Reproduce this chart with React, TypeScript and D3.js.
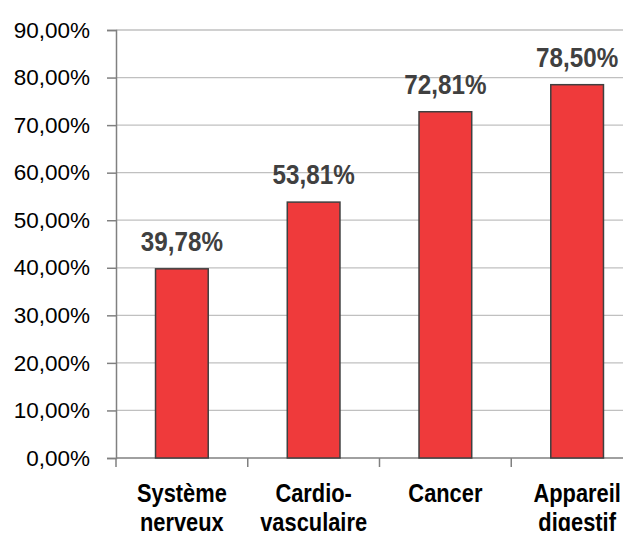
import React, { useEffect, useRef } from "react";
import * as d3 from "d3";

const WIDTH = 631;
const HEIGHT = 539;

const categories = ["Système nerveux", "Cardio-vasculaire", "Cancer", "Appareil digestif"];
const categoryLines = [
  ["Système", "nerveux"],
  ["Cardio-", "vasculaire"],
  ["Cancer"],
  ["Appareil", "digestif"],
];
const values = [0.3978, 0.5381, 0.7281, 0.785];
const yTicks = [0, 0.1, 0.2, 0.3, 0.4, 0.5, 0.6, 0.7, 0.8, 0.9];

const fmt = (v: number) => (v * 100).toFixed(2).replace(".", ",") + "%";

const FONT = "'Liberation Sans', Arial, sans-serif";
// the bold labels in the original are narrower than Arial bold
const NARROW = 0.85;

const BarChart = () => {
  const ref = useRef<SVGGElement>(null);

  useEffect(() => {
    const g = d3.select(ref.current);
    g.selectAll("*").remove();

    const x = d3
      .scaleBand<string>()
      .domain(categories)
      .range([116, 643])
      .paddingInner(0.6)
      .paddingOuter(0.3);
    const y = d3.scaleLinear().domain([0, 0.9]).range([458, 30]);

    // gridlines
    g.append("g")
      .selectAll("line")
      .data(yTicks.slice(1))
      .join("line")
      .attr("x1", 116)
      .attr("x2", WIDTH)
      .attr("y1", (d) => y(d))
      .attr("y2", (d) => y(d))
      .attr("stroke", "#c0c0c0")
      .attr("stroke-width", 1.3);

    // y axis
    const yAxis = g.append("g").attr("transform", "translate(116,0)");
    yAxis.call(d3.axisLeft(y).tickValues(yTicks).tickSize(9).tickFormat((d) => fmt(+d)));
    yAxis.select(".domain").attr("stroke", "#808080").attr("stroke-width", 1.5);
    yAxis.selectAll(".tick line").attr("stroke", "#808080").attr("stroke-width", 1.5);
    yAxis
      .selectAll(".tick text")
      .attr("x", -26)
      .attr("font-size", 22.5)
      .attr("font-family", FONT)
      .attr("fill", "#000");

    // x axis with ticks between the categories
    const step = x.step();
    const bounds = categories.map((c) => (x(c) as number) - (x.paddingInner() * step) / 2);
    const xAxis = g.append("g");
    xAxis
      .append("line")
      .attr("x1", 116)
      .attr("x2", WIDTH)
      .attr("y1", y(0))
      .attr("y2", y(0))
      .attr("stroke", "#808080")
      .attr("stroke-width", 1.5);
    xAxis
      .selectAll("line.tk")
      .data(bounds)
      .join("line")
      .attr("class", "tk")
      .attr("x1", (d) => d)
      .attr("x2", (d) => d)
      .attr("y1", y(0))
      .attr("y2", y(0) + 9)
      .attr("stroke", "#808080")
      .attr("stroke-width", 1.5);

    // bars
    g.append("g")
      .selectAll("rect")
      .data(values)
      .join("rect")
      .attr("x", (d, i) => x(categories[i]) as number)
      .attr("width", x.bandwidth())
      .attr("y", (d) => y(d))
      .attr("height", (d) => y(0) - y(d))
      .attr("fill", "#ef3a3b")
      .attr("stroke", "#404040")
      .attr("stroke-width", 1.5);

    // value labels
    g.append("g")
      .selectAll("text")
      .data(values)
      .join("text")
      .attr(
        "transform",
        (d, i) =>
          `translate(${(x(categories[i]) as number) + x.bandwidth() / 2},${y(d) - 18}) scale(${NARROW},1)`
      )
      .attr("text-anchor", "middle")
      .attr("font-family", FONT)
      .attr("font-weight", "bold")
      .attr("font-size", 28.5)
      .attr("fill", "#404040")
      .text((d) => fmt(d));

    // category labels
    const cl = g
      .append("g")
      .selectAll("g")
      .data(categoryLines)
      .join("g")
      .attr("transform", (d, i) => `translate(${(x(categories[i]) as number) + x.bandwidth() / 2},0)`);
    cl.selectAll("text")
      .data((d) => d)
      .join("text")
      .attr("transform", (d, i) => `translate(0,${502 + i * 29}) scale(0.84,1)`)
      .attr("text-anchor", "middle")
      .attr("font-family", FONT)
      .attr("font-weight", "bold")
      .attr("font-size", 26)
      .attr("fill", "#000")
      .text((d) => d);
  }, []);

  return (
    <svg width={WIDTH} height={HEIGHT} style={{ display: "block" }}>
      <g ref={ref} />
    </svg>
  );
};

export default function App() {
  return (
    <div style={{ margin: -8 }}>
      <BarChart />
    </div>
  );
}
